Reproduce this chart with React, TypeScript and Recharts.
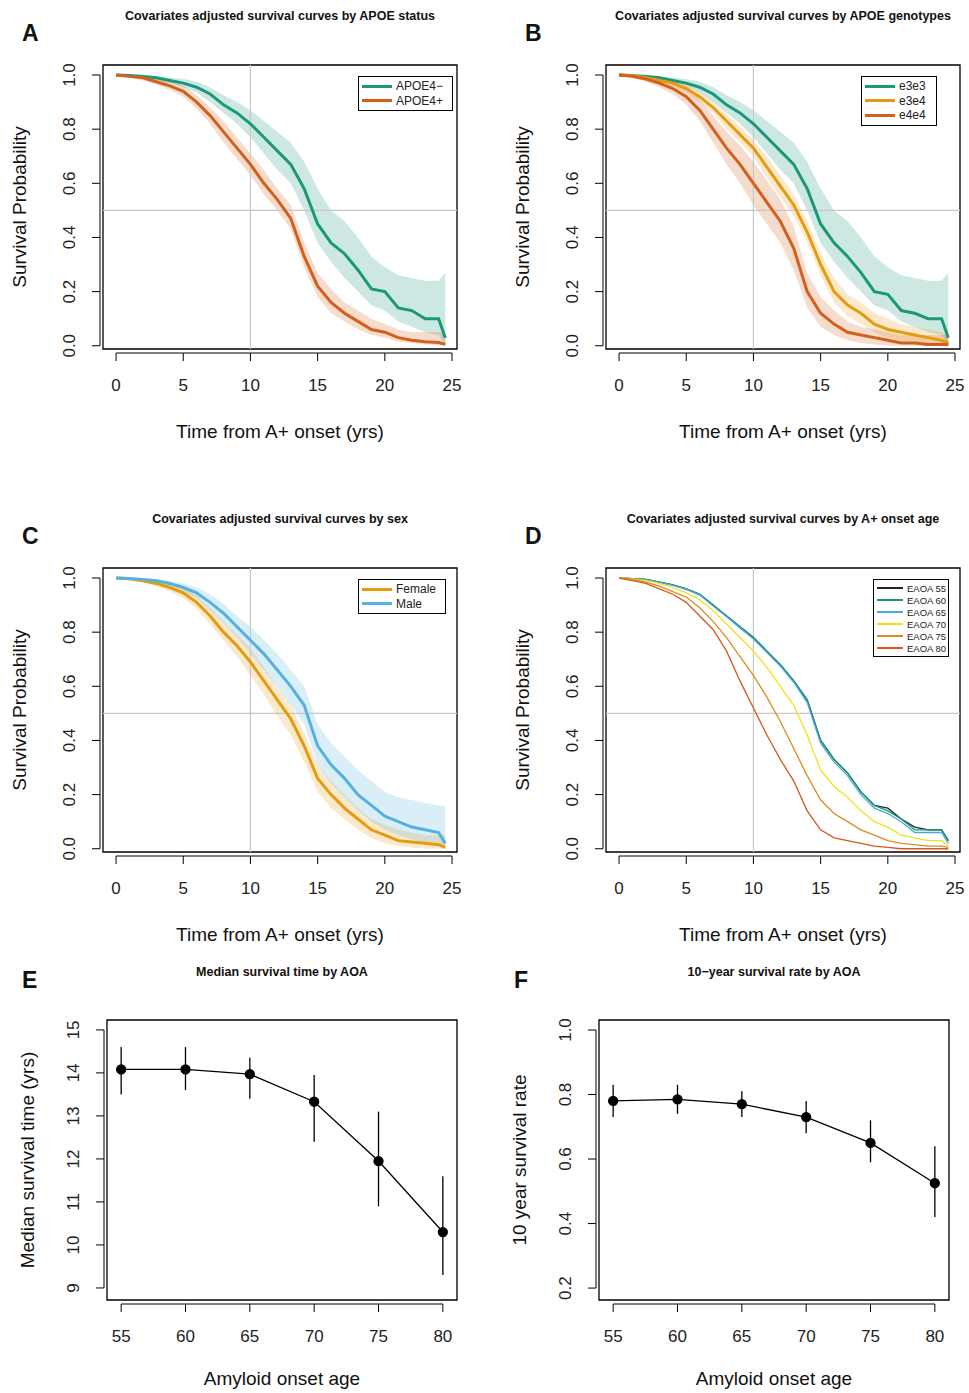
import React from "react";
import {
  ComposedChart, Line, Area, XAxis, YAxis, ReferenceLine, ReferenceArea, ErrorBar,
} from "recharts";

const FONT = "'Liberation Sans', Arial, sans-serif";

// time grid (years from A+ onset)
const TIME = [0, 1, 2, 3, 4, 5, 6, 7, 8, 9, 10, 11, 12, 13, 14, 15, 16, 17, 18, 19, 20, 21, 22, 23, 24, 24.5];

// Panel A
const apoe4Neg = [1, .998, .995, .99, .98, .97, .955, .93, .89, .86, .82, .77, .72, .67, .58, .45, .38, .34, .28, .21, .2, .14, .13, .1, .1, .03];
const apoe4NegHi = [1, 1, 1, .995, .99, .985, .975, .955, .925, .9, .87, .83, .79, .75, .68, .58, .5, .46, .4, .33, .29, .26, .25, .24, .24, .27];
const apoe4NegLo = [1, .995, .99, .98, .97, .955, .935, .9, .86, .82, .77, .71, .65, .6, .5, .38, .31, .25, .2, .15, .13, .09, .07, .05, .04, 0];
const apoe4Pos = [1, .995, .99, .975, .96, .94, .9, .85, .79, .73, .67, .6, .54, .47, .33, .22, .16, .12, .09, .06, .05, .03, .02, .015, .012, .005];
const apoe4PosHi = [1, 1, .995, .985, .975, .96, .925, .88, .83, .77, .71, .65, .58, .52, .38, .27, .21, .16, .13, .1, .08, .06, .05, .05, .05, .05];
const apoe4PosLo = [1, .99, .98, .965, .945, .92, .875, .82, .75, .69, .63, .56, .5, .43, .29, .18, .12, .09, .06, .04, .03, .015, .01, .005, .003, 0];

// Panel B
const e3e3 = [1, .998, .995, .99, .98, .97, .955, .93, .89, .86, .82, .77, .72, .67, .58, .45, .38, .33, .27, .2, .19, .13, .12, .1, .1, .03];
const e3e3Hi = [1, 1, 1, .995, .99, .985, .975, .955, .925, .9, .87, .83, .79, .75, .68, .58, .5, .46, .4, .33, .29, .26, .25, .24, .24, .27];
const e3e3Lo = [1, .995, .99, .98, .97, .955, .935, .9, .86, .82, .77, .71, .65, .6, .5, .38, .31, .25, .2, .15, .13, .09, .07, .05, .04, 0];
const e3e4 = [1, .997, .99, .98, .97, .95, .92, .88, .83, .78, .73, .66, .59, .52, .42, .3, .2, .15, .12, .08, .06, .05, .04, .03, .02, .01];
const e3e4Hi = [1, 1, .995, .99, .98, .965, .94, .9, .855, .81, .76, .7, .63, .56, .46, .34, .25, .19, .16, .12, .1, .08, .07, .06, .05, .04];
const e3e4Lo = [1, .99, .985, .97, .955, .935, .9, .86, .8, .75, .7, .62, .55, .48, .38, .26, .16, .11, .08, .05, .03, .02, .015, .01, .005, 0];
const e4e4 = [1, .995, .985, .97, .95, .92, .87, .8, .73, .67, .6, .53, .46, .36, .2, .12, .08, .05, .04, .03, .02, .01, .01, .005, .005, .005];
const e4e4Hi = [1, 1, .995, .985, .97, .95, .91, .85, .79, .74, .68, .61, .54, .44, .27, .18, .13, .09, .07, .06, .05, .04, .04, .04, .04, .04];
const e4e4Lo = [1, .99, .975, .955, .93, .89, .83, .75, .67, .6, .52, .45, .38, .28, .14, .07, .04, .02, .01, .005, 0, 0, 0, 0, 0, 0];

// Panel C
const female = [1, .997, .99, .98, .965, .945, .91, .86, .8, .75, .69, .62, .55, .48, .38, .26, .2, .15, .11, .07, .05, .03, .025, .02, .015, .005];
const femaleHi = [1, 1, .995, .99, .98, .965, .935, .89, .84, .79, .74, .67, .6, .53, .43, .31, .25, .2, .15, .11, .09, .07, .06, .05, .05, .05];
const femaleLo = [1, .99, .985, .97, .95, .925, .885, .83, .77, .71, .64, .57, .49, .42, .32, .21, .15, .11, .07, .04, .02, .01, .005, 0, 0, 0];
const male = [1, .998, .995, .99, .98, .965, .945, .91, .87, .82, .77, .72, .66, .6, .53, .38, .31, .26, .2, .16, .12, .1, .08, .07, .06, .02];
const maleHi = [1, 1, 1, .995, .99, .98, .965, .94, .905, .86, .82, .77, .72, .66, .6, .46, .39, .34, .29, .25, .21, .19, .18, .17, .16, .16];
const maleLo = [1, .995, .99, .98, .97, .95, .925, .88, .835, .78, .72, .66, .6, .53, .46, .31, .24, .19, .14, .1, .07, .05, .035, .02, .01, 0];

// Panel D
const eaoa55 = [1, .998, .995, .985, .975, .96, .94, .9, .86, .82, .78, .73, .68, .62, .55, .4, .33, .28, .21, .16, .15, .11, .08, .07, .07, .03];
const eaoa60 = [1, .998, .995, .985, .975, .96, .94, .9, .86, .82, .78, .73, .68, .62, .55, .4, .33, .28, .21, .16, .14, .11, .07, .07, .07, .03];
const eaoa65 = [1, .998, .994, .984, .973, .958, .937, .897, .857, .815, .775, .725, .675, .615, .54, .39, .32, .27, .2, .15, .13, .1, .06, .06, .06, .02];
const eaoa70 = [1, .997, .99, .98, .965, .945, .92, .88, .83, .78, .73, .67, .6, .53, .42, .29, .23, .19, .14, .1, .08, .05, .04, .03, .03, .01];
const eaoa75 = [1, .995, .985, .97, .95, .93, .89, .84, .78, .71, .64, .56, .47, .37, .27, .18, .13, .1, .07, .05, .03, .02, .015, .01, .01, .005];
const eaoa80 = [1, .99, .98, .96, .94, .91, .86, .81, .73, .62, .52, .42, .33, .25, .14, .07, .04, .03, .02, .01, .005, 0, 0, 0, 0, 0];

// Panels E, F
const AOA = [55, 60, 65, 70, 75, 80];
const medianTime = [14.08, 14.08, 13.97, 13.33, 11.95, 10.3];
const medianLo = [13.5, 13.6, 13.4, 12.4, 10.9, 9.3];
const medianHi = [14.6, 14.6, 14.35, 13.95, 13.1, 11.6];
const rate10 = [0.78, 0.785, 0.77, 0.73, 0.65, 0.525];
const rate10Lo = [0.73, 0.74, 0.73, 0.68, 0.59, 0.42];
const rate10Hi = [0.83, 0.83, 0.81, 0.78, 0.72, 0.64];

interface Series { name: string; color: string; values: number[]; lo?: number[]; hi?: number[]; width?: number }

const XTick = (props: any) => {
  const { x, y, payload, step, last } = props;
  return (
    <g>
      <line x1={x} x2={x} y1={y + 4} y2={y + 12} stroke="#000" />
      {payload.value !== last && <line x1={x} x2={x + step} y1={y + 4} y2={y + 4} stroke="#000" />}
      <text x={x} y={y + 42} textAnchor="middle" fontSize={17} fontFamily={FONT} fill="#222">{payload.value}</text>
    </g>
  );
};

const YTick = (props: any) => {
  const { x, y, payload, step, last, fmt } = props;
  return (
    <g>
      <line x1={x - 3} x2={x - 11} y1={y} y2={y} stroke="#000" />
      {payload.value !== last && <line x1={x - 3} x2={x - 3} y1={y} y2={y - step} stroke="#000" />}
      <text x={x - 28} y={y} transform={`rotate(-90, ${x - 28}, ${y})`} textAnchor="middle" fontSize={17} fontFamily={FONT} fill="#222">{fmt(payload.value)}</text>
    </g>
  );
};

const txt = (s: React.CSSProperties): React.CSSProperties => ({ position: "absolute", fontFamily: FONT, color: "#111", whiteSpace: "nowrap", ...s });

function Legend({ left, top, width, items, fontSize, lineW, swatch }: { left: number; top: number; width: number; items: Series[]; fontSize: number; lineW: number; swatch: number }) {
  return (
    <div style={{ position: "absolute", left, top, width, border: "1px solid #000", background: "#fff", padding: "2px 3px", boxSizing: "border-box" }}>
      {items.map((s) => (
        <div key={s.name} style={{ display: "flex", alignItems: "center", height: fontSize + 2.5, fontFamily: FONT, fontSize, color: "#222", whiteSpace: "nowrap" }}>
          <span style={{ display: "inline-block", flex: "none", width: swatch, height: lineW, background: s.color, marginRight: 4 }} />
          {s.name}
        </div>
      ))}
    </div>
  );
}

function SurvPanel({ ox, oy, letter, title, series, legend }: { ox: number; oy: number; letter: string; title: string; series: Series[]; legend: { left: number; top: number; width: number; fontSize: number; lineW: number; swatch: number } }) {
  const data = TIME.map((t, i) => {
    const row: any = { t };
    series.forEach((s, k) => {
      row["v" + k] = s.values[i];
      if (s.lo && s.hi) row["b" + k] = [s.lo[i], s.hi[i]];
    });
    return row;
  });
  const W = 466, H = 420; // chart area from (ox, oy+40)
  return (
    <>
      <div style={txt({ left: ox + 22, top: oy + 20, fontSize: 23, fontWeight: "bold" })}>{letter}</div>
      <div style={txt({ left: ox + 103, width: 354, top: oy + 9, fontSize: 12.5, fontWeight: "bold", textAlign: "center" })}>{title}</div>
      <div style={txt({ left: ox + 103, width: 354, top: oy + 421, fontSize: 19, textAlign: "center" })}>Time from A+ onset (yrs)</div>
      <div style={txt({ left: ox + 20 - 100, width: 200, top: oy + 207 - 11, fontSize: 19, textAlign: "center", transform: "rotate(-90deg)" })}>Survival Probability</div>
      <div style={{ position: "absolute", left: ox, top: oy + 40 }}>
        <ComposedChart width={W} height={H} data={data} margin={{ top: 25, right: W - 457, left: 0, bottom: 0 }}>
          <XAxis dataKey="t" type="number" domain={[-0.97, 25.37]} allowDataOverflow ticks={[0, 5, 10, 15, 20, 25]}
            axisLine={false} tickLine={false} tickSize={0} tickMargin={0} height={111} interval={0}
            tick={<XTick step={67.2} last={25} />} />
          <YAxis type="number" domain={[-0.012, 1.037]} allowDataOverflow ticks={[0, 0.2, 0.4, 0.6, 0.8, 1]}
            axisLine={false} tickLine={false} tickSize={0} tickMargin={0} width={103} interval={0}
            tick={<YTick step={54.2} last={1} fmt={(v: number) => v.toFixed(1)} />} />
          <ReferenceLine x={10} stroke="#c8c8c8" strokeWidth={1.2} />
          <ReferenceLine y={0.5} stroke="#c8c8c8" strokeWidth={1.2} />
          {series.map((s, k) => s.lo ? (
            <Area key={"b" + k} dataKey={"b" + k} type="linear" stroke="none" fill={s.color} fillOpacity={0.22} isAnimationActive={false} />
          ) : null)}
          {series.map((s, k) => (
            <Line key={"v" + k} dataKey={"v" + k} type="linear" stroke={s.color} strokeWidth={s.width ?? 3} dot={false} isAnimationActive={false} />
          ))}
          <ReferenceArea x1={-0.97} x2={25.37} y1={-0.012} y2={1.037} fill="none" stroke="#000" strokeWidth={1.3} ifOverflow="visible" />
        </ComposedChart>
      </div>
      <Legend items={series} {...legend} />
    </>
  );
}

function PointPanel({ ox, letter, title, ylabel, values, lo, hi, yDomain, yTicks, yStep, fmt }: { ox: number; letter: string; title: string; ylabel: string; values: number[]; lo: number[]; hi: number[]; yDomain: [number, number]; yTicks: number[]; yStep: number; fmt: (v: number) => string }) {
  const data = AOA.map((a, i) => ({ a, v: values[i], e: [values[i] - lo[i], hi[i] - values[i]] }));
  const oy = 960;
  return (
    <>
      <div style={txt({ left: ox + 22, top: oy + 7, fontSize: 23, fontWeight: "bold" })}>{letter}</div>
      <div style={txt({ left: ox + 107, width: 350, top: oy + 5, fontSize: 12.5, fontWeight: "bold", textAlign: "center" })}>{title}</div>
      <div style={txt({ left: ox + 107, width: 350, top: oy + 408, fontSize: 19, textAlign: "center" })}>Amyloid onset age</div>
      <div style={txt({ left: ox + 28 - 150, width: 300, top: 1160 - 11, fontSize: 19, textAlign: "center", transform: "rotate(-90deg)" })}>{ylabel}</div>
      <div style={{ position: "absolute", left: ox, top: 1000 }}>
        <ComposedChart width={466} height={393} data={data} margin={{ top: 20, right: 466 - 457, left: 0, bottom: 0 }}>
          <XAxis dataKey="a" type="number" domain={[53.9, 81.1]} allowDataOverflow ticks={AOA}
            axisLine={false} tickLine={false} tickSize={0} tickMargin={0} height={93} interval={0}
            tick={<XTick step={64.4} last={80} />} />
          <YAxis type="number" domain={yDomain} allowDataOverflow ticks={yTicks}
            axisLine={false} tickLine={false} tickSize={0} tickMargin={0} width={107} interval={0}
            tick={<YTick step={yStep} last={yTicks[yTicks.length - 1]} fmt={fmt} />} />
          <Line dataKey="v" type="linear" stroke="#000" strokeWidth={1.3} isAnimationActive={false}
            dot={{ r: 4.5, fill: "#000", stroke: "#000" }}>
            <ErrorBar dataKey="e" direction="y" width={0} stroke="#000" strokeWidth={1.3} />
          </Line>
          <ReferenceArea x1={53.9} x2={81.1} y1={yDomain[0]} y2={yDomain[1]} fill="none" stroke="#000" strokeWidth={1.3} ifOverflow="visible" />
        </ComposedChart>
      </div>
    </>
  );
}

export default function App() {
  return (
    <div style={{ position: "absolute", left: 0, top: 0, width: 969, height: 1393, background: "#fff", overflow: "hidden" }}>
      <SurvPanel ox={0} oy={0} letter="A" title="Covariates adjusted survival curves by APOE status"
        series={[
          { name: "APOE4−", color: "#1A987A", values: apoe4Neg, lo: apoe4NegLo, hi: apoe4NegHi },
          { name: "APOE4+", color: "#D2601A", values: apoe4Pos, lo: apoe4PosLo, hi: apoe4PosHi },
        ]}
        legend={{ left: 358, top: 76, width: 95, fontSize: 12, lineW: 3, swatch: 30 }} />
      <SurvPanel ox={503} oy={0} letter="B" title="Covariates adjusted survival curves by APOE genotypes"
        series={[
          { name: "e3e3", color: "#1A987A", values: e3e3, lo: e3e3Lo, hi: e3e3Hi },
          { name: "e3e4", color: "#E69A10", values: e3e4, lo: e3e4Lo, hi: e3e4Hi },
          { name: "e4e4", color: "#D2601A", values: e4e4, lo: e4e4Lo, hi: e4e4Hi },
        ]}
        legend={{ left: 861, top: 76, width: 76, fontSize: 12, lineW: 3, swatch: 30 }} />
      <SurvPanel ox={0} oy={503} letter="C" title="Covariates adjusted survival curves by sex"
        series={[
          { name: "Female", color: "#E69A10", values: female, lo: femaleLo, hi: femaleHi },
          { name: "Male", color: "#56B0E0", values: male, lo: maleLo, hi: maleHi },
        ]}
        legend={{ left: 358, top: 579, width: 88, fontSize: 12, lineW: 3, swatch: 30 }} />
      <SurvPanel ox={503} oy={503} letter="D" title="Covariates adjusted survival curves by A+ onset age"
        series={[
          { name: "EAOA 55", color: "#1a2a22", values: eaoa55, width: 1.3 },
          { name: "EAOA 60", color: "#1A987A", values: eaoa60, width: 1.3 },
          { name: "EAOA 65", color: "#4AA8DC", values: eaoa65, width: 1.3 },
          { name: "EAOA 70", color: "#F2E01A", values: eaoa70, width: 1.3 },
          { name: "EAOA 75", color: "#E08A1E", values: eaoa75, width: 1.3 },
          { name: "EAOA 80", color: "#D5581A", values: eaoa80, width: 1.3 },
        ]}
        legend={{ left: 873, top: 579, width: 76, fontSize: 9.5, lineW: 1.3, swatch: 26 }} />
      <PointPanel ox={0} letter="E" title="Median survival time by AOA" ylabel="Median survival time (yrs)"
        values={medianTime} lo={medianLo} hi={medianHi} yDomain={[8.72, 15.23]}
        yTicks={[9, 10, 11, 12, 13, 14, 15]} yStep={43} fmt={(v) => String(v)} />
      <PointPanel ox={492} letter="F" title="10−year survival rate by AOA" ylabel="10 year survival rate"
        values={rate10} lo={rate10Lo} hi={rate10Hi} yDomain={[0.163, 1.031]}
        yTicks={[0.2, 0.4, 0.6, 0.8, 1.0]} yStep={64.5} fmt={(v) => v.toFixed(1)} />
    </div>
  );
}
